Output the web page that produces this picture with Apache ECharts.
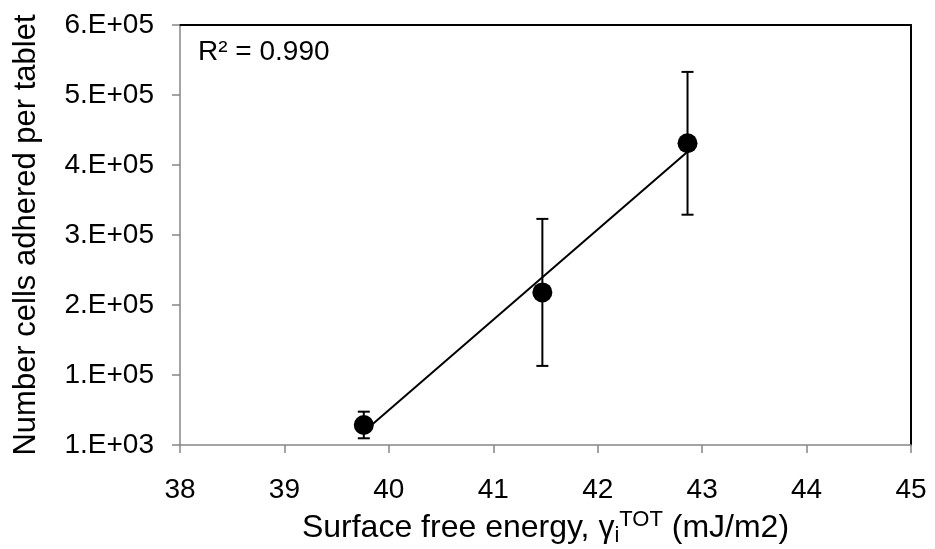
<!DOCTYPE html>
<html>
<head>
<meta charset="utf-8">
<script src="https://cdn.jsdelivr.net/npm/echarts@6/dist/echarts.min.js"></script>
<style>
html,body{margin:0;padding:0;background:#fff;}
#chart{width:935px;height:549px;}
</style>
</head>
<body>
<div id="chart"></div>
<script>
// Data
const xValues = [39.76, 41.47, 42.86];
const yValues = [28600, 218000, 431000];
const yErrors = [19000, 105000, 102000];
const yTickLabels = ['1.E+03', '1.E+05', '2.E+05', '3.E+05', '4.E+05', '5.E+05', '6.E+05'];
const rSquaredLabel = 'R\u00B2 = 0.990';
const xTitle = 'Surface free energy, \u03B3';
const yTitle = 'Number cells adhered per tablet';

// Linear trendline (least squares) over data x range
const n = xValues.length;
const mx = xValues.reduce((a, b) => a + b, 0) / n;
const my = yValues.reduce((a, b) => a + b, 0) / n;
let sxy = 0, sxx = 0;
for (let i = 0; i < n; i++) { sxy += (xValues[i] - mx) * (yValues[i] - my); sxx += (xValues[i] - mx) ** 2; }
const slope = sxy / sxx, intercept = my - slope * mx;
const xMin = Math.min(...xValues), xMax = Math.max(...xValues);
const trend = [[xMin, intercept + slope * xMin], [xMax, intercept + slope * xMax]];

const points = xValues.map((x, i) => [x, yValues[i]]);
const errData = xValues.map((x, i) => [x, yValues[i] - yErrors[i], yValues[i] + yErrors[i]]);

const FONT = '"Liberation Sans", Arial, sans-serif';
const chart = echarts.init(document.getElementById('chart'), null, {renderer: 'canvas'});
chart.setOption({
  animation: false,
  backgroundColor: '#ffffff',
  grid: {left: 180, right: 24, top: 25, bottom: 104, containLabel: false, outerBoundsMode: 'none'},
  xAxis: [{
    type: 'value', min: 38, max: 45, interval: 1,
    axisLine: {show: true, onZero: false, lineStyle: {color: '#868686', width: 1.5}},
    axisTick: {show: true, inside: false, length: 8, lineStyle: {color: '#868686', width: 1.5}},
    axisLabel: {fontFamily: FONT, fontSize: 28, color: '#000', margin: 31},
    splitLine: {show: false},
    name: '{b|' + xTitle + '}{sub|i}{sup|TOT}{b| (mJ/m2)}',
    nameLocation: 'middle', nameGap: 62,
    nameTextStyle: {
      rich: {
        b: {fontFamily: FONT, fontSize: 32, color: '#000', lineHeight: 38, verticalAlign: 'middle'},
        sub: {fontFamily: FONT, fontSize: 22, color: '#000', lineHeight: 22, verticalAlign: 'bottom'},
        sup: {fontFamily: FONT, fontSize: 22, color: '#000', lineHeight: 22, verticalAlign: 'top'}
      }
    }
  }, {
    type: 'value', min: 38, max: 45, position: 'top',
    axisLine: {show: true, onZero: false, lineStyle: {color: '#000', width: 2}},
    axisTick: {show: false}, axisLabel: {show: false}, splitLine: {show: false}
  }],
  yAxis: [{
    type: 'value', min: 0, max: 600000, interval: 100000,
    axisLine: {show: true, onZero: false, lineStyle: {color: '#868686', width: 1.5}},
    axisTick: {show: true, inside: false, length: 8, lineStyle: {color: '#868686', width: 1.5}},
    axisLabel: {fontFamily: FONT, fontSize: 28, color: '#000', margin: 26,
      formatter: (v) => yTickLabels[Math.round(v / 100000)]},
    splitLine: {show: false},
    name: yTitle, nameLocation: 'middle', nameGap: 138,
    nameTextStyle: {fontFamily: FONT, fontSize: 31, color: '#000'}
  }, {
    type: 'value', min: 0, max: 600000, position: 'right',
    axisLine: {show: true, onZero: false, lineStyle: {color: '#000', width: 2}},
    axisTick: {show: false}, axisLabel: {show: false}, splitLine: {show: false}
  }],
  graphic: [{
    type: 'text', left: 198, top: 38,
    style: {text: rSquaredLabel, font: '28px ' + FONT, fill: '#000'}
  }],
  series: [{
    type: 'line', data: trend, symbol: 'none',
    lineStyle: {color: '#000', width: 2}, z: 2, silent: true
  }, {
    type: 'custom', data: errData, z: 3,
    renderItem: function (params, api) {
      const x = api.value(0);
      const lo = api.coord([x, api.value(1)]);
      const hi = api.coord([x, api.value(2)]);
      const w = 6;
      const st = {stroke: '#000', lineWidth: 2};
      return {type: 'group', children: [
        {type: 'line', shape: {x1: lo[0], y1: lo[1], x2: hi[0], y2: hi[1]}, style: st},
        {type: 'line', shape: {x1: lo[0] - w, y1: lo[1], x2: lo[0] + w, y2: lo[1]}, style: st},
        {type: 'line', shape: {x1: hi[0] - w, y1: hi[1], x2: hi[0] + w, y2: hi[1]}, style: st}
      ]};
    }
  }, {
    type: 'scatter', data: points, symbol: 'circle', symbolSize: 20,
    itemStyle: {color: '#000', opacity: 1}, z: 4
  }]
});
</script>
</body>
</html>
